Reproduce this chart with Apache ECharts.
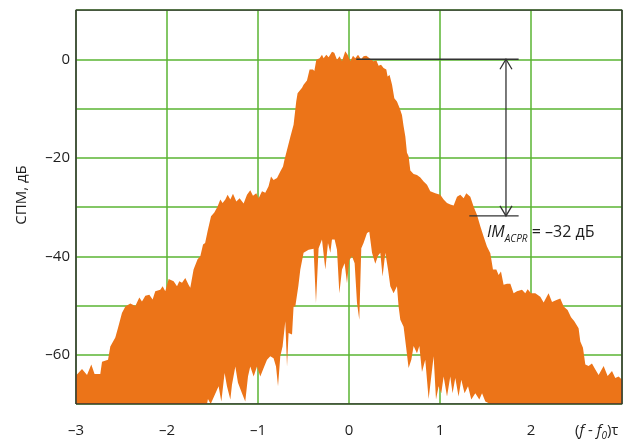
<!DOCTYPE html>
<html>
<head>
<meta charset="utf-8">
<script src="https://cdn.jsdelivr.net/npm/echarts@6/dist/echarts.min.js"></script>
<style>
  html, body { margin: 0; background: #fff; }
  #chart { width: 633px; height: 441px; }
</style>
</head>
<body>
<div id="chart"></div>
<script>
// axis ranges (x in units of (f - f0)τ, y in dB)
const xMin = -3, xMax = 3
const yMin = -70, yMax = 10

// upper edge of the spectrum
const upperEdge = [
  [-3.00, -64.2], [-2.934, -62.9], [-2.879, -64.1], [-2.832, -62.0], [-2.796, -63.9],
  [-2.733, -63.9], [-2.714, -61.4], [-2.648, -61.0], [-2.623, -58.3], [-2.568, -56.5],
  [-2.538, -54.5], [-2.495, -51.5], [-2.458, -50.2], [-2.403, -49.6], [-2.348, -50.1],
  [-2.304, -48.4], [-2.275, -49.2], [-2.238, -48.0], [-2.194, -47.8], [-2.158, -48.8],
  [-2.129, -47.1], [-2.074, -46.8], [-2.048, -46.1], [-2.019, -47.1], [-1.982, -44.6],
  [-1.927, -45.1], [-1.890, -46.1], [-1.865, -45.1], [-1.835, -45.4], [-1.799, -44.4],
  [-1.763, -45.8], [-1.744, -46.4], [-1.708, -42.7], [-1.664, -40.6], [-1.634, -40.0],
  [-1.604, -37.6], [-1.581, -37.3], [-1.554, -34.9], [-1.516, -31.9], [-1.480, -31.1],
  [-1.444, -29.9], [-1.414, -28.5], [-1.389, -29.2], [-1.359, -28.5], [-1.334, -27.5],
  [-1.304, -28.5], [-1.275, -27.3], [-1.238, -28.9], [-1.202, -28.2], [-1.158, -29.3],
  [-1.121, -27.5], [-1.085, -26.6], [-1.055, -27.7], [-1.019, -27.2], [-0.993, -28.2],
  [-0.956, -26.8], [-0.920, -27.1], [-0.884, -25.8], [-0.857, -23.8], [-0.829, -24.5],
  [-0.791, -24.1], [-0.755, -22.8], [-0.725, -21.8], [-0.708, -20.3], [-0.699, -19.7],
  [-0.645, -15.8], [-0.609, -13.3], [-0.580, -8.6], [-0.565, -6.9], [-0.516, -5.8],
  [-0.499, -5.2], [-0.462, -4.3], [-0.433, -2.1], [-0.396, -2.1], [-0.381, -2.4],
  [-0.359, -0.1], [-0.323, 0.2], [-0.297, 0.9], [-0.279, 0.2], [-0.249, 0.9],
  [-0.224, 0.4], [-0.187, 1.5], [-0.162, 1.3], [-0.132, -0.1], [-0.103, 0.6],
  [-0.077, -0.4], [-0.041, 1.6], [-0.015, 0.9], [0.014, -0.4], [0.044, 0.7],
  [0.069, 0.2], [0.099, 0.9], [0.132, 0.0], [0.160, 0.6], [0.190, 0.7],
  [0.226, 0.2], [0.270, -0.4], [0.300, -0.2], [0.325, -1.3], [0.352, -1.1],
  [0.380, -1.8], [0.410, -2.1], [0.424, -3.5], [0.446, -3.2], [0.473, -5.2],
  [0.498, -7.9], [0.527, -8.6], [0.556, -9.9], [0.582, -11.3], [0.600, -13.6],
  [0.619, -15.7], [0.637, -19.0], [0.655, -19.7], [0.674, -22.6], [0.710, -23.3],
  [0.747, -23.5], [0.784, -24.0], [0.820, -24.8], [0.857, -25.5], [0.893, -26.8],
  [0.948, -27.2], [1.003, -27.5], [1.040, -28.5], [1.077, -29.2], [1.113, -29.5],
  [1.150, -29.7], [1.187, -27.9], [1.223, -27.5], [1.260, -28.2], [1.289, -27.2],
  [1.333, -27.9], [1.369, -29.9], [1.407, -31.6], [1.443, -33.9], [1.479, -36.0],
  [1.516, -38.0], [1.553, -39.4], [1.582, -42.7], [1.619, -42.7], [1.644, -43.8],
  [1.670, -43.1], [1.699, -45.8], [1.736, -45.6], [1.773, -45.6], [1.809, -47.5],
  [1.846, -47.1], [1.901, -46.8], [1.937, -47.5], [1.963, -46.7], [2.000, -47.5],
  [2.047, -47.5], [2.102, -48.2], [2.139, -49.4], [2.193, -47.5], [2.231, -49.3],
  [2.267, -49.0], [2.322, -48.6], [2.359, -50.2], [2.402, -50.9], [2.440, -52.4],
  [2.476, -53.2], [2.523, -54.6], [2.542, -57.3], [2.571, -58.6], [2.597, -62.0],
  [2.633, -62.3], [2.670, -61.8], [2.707, -63.0], [2.743, -64.1], [2.798, -62.3],
  [2.842, -64.3], [2.890, -63.3], [2.926, -64.7], [2.963, -64.4], [3.000, -65.1]
]

// lower edge (top of the white gaps at the bottom)
const lowerEdge = [
  [-1.560, -70.0], [-1.550, -69.0], [-1.520, -70.0], [-1.433, -66.4], [-1.403, -69.5],
  [-1.367, -63.7], [-1.341, -66.4], [-1.304, -69.1], [-1.286, -66.1], [-1.249, -62.4],
  [-1.220, -65.7], [-1.176, -67.8], [-1.140, -69.5], [-1.110, -64.4], [-1.085, -62.4],
  [-1.048, -64.4], [-1.011, -62.4], [-0.975, -64.4], [-0.938, -62.7], [-0.901, -61.0],
  [-0.865, -60.3], [-0.829, -60.7], [-0.802, -62.4], [-0.780, -66.4], [-0.755, -60.3],
  [-0.730, -58.3], [-0.700, -53.2], [-0.681, -62.4], [-0.664, -55.6], [-0.626, -55.9],
  [-0.609, -50.2], [-0.590, -50.2], [-0.557, -46.1], [-0.535, -42.7], [-0.499, -39.3],
  [-0.444, -38.7], [-0.389, -38.5], [-0.363, -49.5], [-0.334, -38.4], [-0.297, -36.6],
  [-0.260, -42.7], [-0.231, -37.3], [-0.205, -39.3], [-0.187, -36.6], [-0.158, -36.6],
  [-0.132, -38.7], [-0.106, -47.5], [-0.077, -42.7], [-0.048, -41.4], [-0.022, -45.5],
  [0.003, -40.8], [0.033, -40.0], [0.062, -41.4], [0.088, -49.5], [0.113, -52.9],
  [0.135, -38.4], [0.160, -37.3], [0.198, -35.3], [0.223, -35.0], [0.253, -39.3],
  [0.289, -41.5], [0.319, -39.9], [0.344, -39.3], [0.369, -44.1], [0.399, -39.3],
  [0.429, -42.7], [0.454, -46.1], [0.490, -47.5], [0.527, -46.1], [0.545, -50.2],
  [0.564, -52.9], [0.600, -54.3], [0.626, -58.2], [0.655, -62.7], [0.685, -61.0],
  [0.710, -58.2], [0.747, -59.7], [0.773, -58.2], [0.802, -63.5], [0.838, -61.0],
  [0.875, -69.0], [0.904, -64.4], [0.930, -60.3], [0.956, -69.1], [0.985, -66.4],
  [1.014, -67.8], [1.040, -64.4], [1.077, -68.5], [1.113, -64.4], [1.138, -67.8],
  [1.168, -64.7], [1.204, -68.5], [1.234, -65.1], [1.270, -67.8], [1.308, -66.4],
  [1.344, -69.1], [1.388, -67.8], [1.432, -69.1], [1.462, -67.8], [1.498, -69.5],
  [1.553, -70.0]
]

// ACPR annotation
const refTop = [[0.08, 0], [1.864, 0]]
const acprLevel = -31.8
const refBottom = [[1.322, acprLevel], [1.864, acprLevel]]
const arrowX = 1.725

const frame = [[xMin, yMin], [xMax, yMin], [xMax, yMax], [xMin, yMax], [xMin, yMin]]

const orange = '#ec7418'
const green = '#5ab432'
const ink = '#333333'
const font = '"Open Sans", "Noto Sans", sans-serif'

function renderSpectrum(params, api) {
  const pts = upperEdge.map(p => api.coord(p))
  pts.push(api.coord([xMax, yMin]))
  for (let i = lowerEdge.length - 1; i >= 0; i--) pts.push(api.coord(lowerEdge[i]))
  pts.push(api.coord([xMin, yMin]))
  return { type: 'polygon', shape: { points: pts }, style: { fill: orange } }
}

function renderMarks(params, api) {
  const st = { stroke: ink, lineWidth: 1.3, fill: 'none' }
  const tip1 = api.coord([arrowX, 0])
  const tip2 = api.coord([arrowX, acprLevel])
  const w = 6, h = 10
  return {
    type: 'group',
    children: [
      { type: 'polyline', shape: { points: refTop.map(p => api.coord(p)) }, style: st },
      { type: 'polyline', shape: { points: refBottom.map(p => api.coord(p)) }, style: st },
      { type: 'polyline', shape: { points: [tip1, tip2] }, style: st },
      { type: 'polyline', shape: { points: [[tip1[0] - w, tip1[1] + h], tip1, [tip1[0] + w, tip1[1] + h]] }, style: st },
      { type: 'polyline', shape: { points: [[tip2[0] - w, tip2[1] - h], tip2, [tip2[0] + w, tip2[1] - h]] }, style: st }
    ]
  }
}

const chart = echarts.init(document.getElementById('chart'))

const option = {
  animation: false,
  grid: { left: 76, right: 11, top: 10, bottom: 37 },
  xAxis: {
    type: 'value',
    min: xMin,
    max: xMax,
    interval: 1,
    axisLine: { show: false },
    axisTick: { show: false },
    splitLine: { show: true, lineStyle: { color: green, width: 1.5 } },
    axisLabel: {
      margin: 19,
      color: '#1e1e1e',
      fontSize: 15,
      fontFamily: font,
      formatter: v => (v === xMax ? '' : String(v).replace('-', '–'))
    }
  },
  yAxis: {
    type: 'value',
    min: yMin,
    max: yMax,
    interval: 10,
    axisLine: { show: false },
    axisTick: { show: false },
    splitLine: { show: true, lineStyle: { color: green, width: 1.5 } },
    axisLabel: {
      margin: 6,
      color: '#1e1e1e',
      fontSize: 15,
      fontFamily: font,
      formatter: v => (v % 20 === 0 && v <= 0 ? String(v).replace('-', '–') : '')
    }
  },
  graphic: [
    {
      type: 'text',
      x: 22, y: 195, rotation: Math.PI / 2,
      style: { text: 'СПМ, дБ', font: '15px ' + font, fill: '#1e1e1e', align: 'center', verticalAlign: 'middle' }
    },
    {
      type: 'text',
      x: 575, y: 431,
      style: {
        text: '{n|(}{i|f}{n| - }{i|f}{s|0}{n|)τ}',
        verticalAlign: 'middle',
        fill: '#1e1e1e',
        rich: {
          n: { fontSize: 15, fontFamily: font, lineHeight: 20, fill: '#1e1e1e' },
          i: { fontSize: 15, fontFamily: font, fontStyle: 'italic', lineHeight: 20, fill: '#1e1e1e' },
          s: { fontSize: 10, fontFamily: font, fontStyle: 'italic', lineHeight: 8, verticalAlign: 'bottom', fill: '#1e1e1e' }
        }
      }
    },
    {
      type: 'text',
      x: 487, y: 232,
      style: {
        text: '{i|IM}{s|ACPR}{n| = –32 дБ}',
        verticalAlign: 'middle',
        fill: '#1e1e1e',
        rich: {
          i: { fontSize: 16, fontFamily: font, fontStyle: 'italic', lineHeight: 24, fill: '#1e1e1e' },
          s: { fontSize: 10, fontFamily: font, fontStyle: 'italic', lineHeight: 8, verticalAlign: 'bottom', fill: '#1e1e1e' },
          n: { fontSize: 16, fontFamily: font, lineHeight: 24, fill: '#1e1e1e' }
        }
      }
    }
  ],
  series: [
    {
      name: 'spectrum',
      type: 'custom',
      renderItem: renderSpectrum,
      data: [[0, 0]],
      silent: true,
      z: 2
    },
    {
      name: 'acpr',
      type: 'custom',
      renderItem: renderMarks,
      data: [[0, 0]],
      silent: true,
      z: 4
    },
    {
      name: 'frame',
      type: 'line',
      data: frame,
      symbol: 'none',
      silent: true,
      lineStyle: { color: ink, width: 1.5 },
      z: 5
    }
  ]
}

chart.setOption(option)
</script>
</body>
</html>
